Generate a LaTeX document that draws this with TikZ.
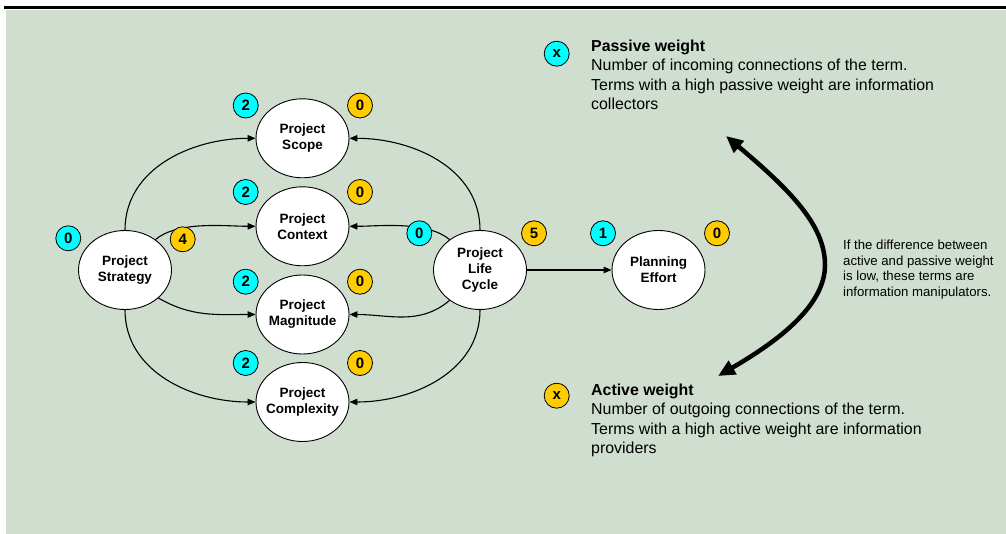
\documentclass[tikz,border=0pt]{standalone}
\usepackage{fontspec}
\setmainfont{Liberation Sans}
\usetikzlibrary{shapes.geometric,arrows.meta}
\definecolor{panel}{RGB}{208,222,208}
\definecolor{passivecol}{RGB}{0,255,255}
\definecolor{activecol}{RGB}{255,204,0}
\begin{document}
\begin{tikzpicture}[x=1pt,y=1pt,
  term/.style={ellipse, draw=black, line width=0.9pt, fill=white,
    minimum width=93pt, minimum height=79pt, inner xsep=-4pt, inner ysep=0pt,
    align=center, font=\fontsize{13.5}{16}\selectfont\bfseries},
  badge/.style={circle, draw=black, line width=0.8pt, minimum size=25pt,
    inner sep=0pt, font=\fontsize{15}{15}\selectfont\bfseries},
  pw/.style={badge, fill=passivecol},
  aw/.style={badge, fill=activecol},
  link/.style={line width=1.1pt, -{Triangle[length=8pt,width=6.5pt]}},
  bigarrow/.style={line width=4.5pt,
    {Triangle[length=17pt,width=15pt]}-{Triangle[length=17pt,width=15pt]}},
  % multi-line nodes: the base anchor sits on the last line
  legend/.style={anchor=base west, align=left, inner sep=0pt,
    font=\fontsize{15.9}{19.2}\selectfont},
  note/.style={anchor=base west, align=left, inner sep=0pt,
    font=\fontsize{13.2}{15.8}\selectfont}
]
\useasboundingbox (0,0) rectangle (1006,-534);
% panel and top rule
\fill[panel] (6,-10) rectangle (1006,-534);
\draw[line width=2.8pt] (4,-7.6) -- (1006,-7.6);

% terms
\node[term] (strat) at (125,-270) {Project\\Strategy};
\node[term] (scope) at (302.5,-138.3) {Project\\Scope};
\node[term] (context) at (302.5,-226.3) {Project\\Context};
\node[term] (magn) at (302.5,-314.5) {Project\\Magnitude};
\node[term] (compl) at (302.5,-402) {Project\\Complexity};
\node[term] (life) at (480,-270) {Project\\Life\\Cycle};
\node[term] (plan) at (658.5,-270) {Planning\\Effort};

% connections
\draw[link] (strat.north) to[out=90,in=180] (scope.west);
\draw[link] (strat.45) to[out=40,in=180,looseness=0.75] (context.west);
\draw[link] (strat.-40) to[out=-30,in=180] (magn.west);
\draw[link] (strat.south) to[out=-90,in=180] (compl.west);
\draw[link] (life.north) to[out=90,in=0] (scope.east);
\draw[link] (life.135) to[out=140,in=0,looseness=0.75] (context.east);
\draw[link] (life.-135) to[out=-140,in=0] (magn.east);
\draw[link] (life.south) to[out=-90,in=0] (compl.east);
\draw[link] (life.east) -- (plan.west);

% weights
\node[pw] (stratP) at (68.3,-238.3) {0};
\node[aw] (stratA) at (182.7,-239.3) {4};
\node[pw] (scopeP) at (245.7,-105.5) {2};
\node[aw] (scopeA) at (360,-105.5) {0};
\node[pw] (contextP) at (245.7,-192) {2};
\node[aw] (contextA) at (360,-192) {0};
\node[pw] (magnP) at (245.7,-281.7) {2};
\node[aw] (magnA) at (360,-281.7) {0};
\node[pw] (complP) at (245.7,-363) {2};
\node[aw] (complA) at (360,-363) {0};
\node[pw] (lifeP) at (419.3,-233.3) {0};
\node[aw] (lifeA) at (534,-233.3) {5};
\node[pw] (planP) at (603,-233.3) {1};
\node[aw] (planA) at (717,-233.3) {0};

% legend
\node[pw] (keyP) at (556.7,-53.7) {x};
\node[legend] (textP) at (591,-109.3) {\textbf{Passive weight}\\Number of incoming connections of the term.\\Terms with a high passive weight are information\\collectors};
\node[aw] (keyA) at (556.7,-395.7) {x};
\node[legend] (textA) at (591,-453.3) {\textbf{Active weight}\\Number of outgoing connections of the term.\\Terms with a high active weight are information\\providers};

% passive/active scale
\coordinate (scaleTop) at (726,-136);
\coordinate (scaleBot) at (718,-376);
\draw[bigarrow] (scaleTop) .. controls (790,-190) and (825,-225) .. (825,-265)
  .. controls (825,-305) and (780,-340) .. (scaleBot);
\node[note] (manip) at (843,-296.7) {If the difference between\\active and passive weight\\is low, these terms are\\information manipulators.};
\end{tikzpicture}
\end{document}
